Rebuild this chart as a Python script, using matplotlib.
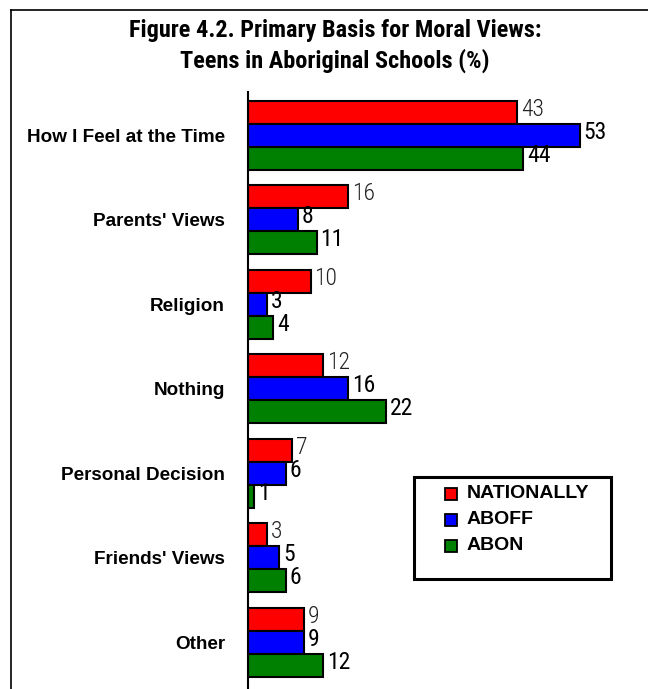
import numpy as np
import matplotlib.pyplot as plt
import matplotlib.lines as mlines
from matplotlib.patches import Rectangle

categories = ["How I Feel at the Time", "Parents' Views", "Religion", "Nothing",
              "Personal Decision", "Friends' Views", "Other"]
nationally = [43, 16, 10, 12, 7, 3, 9]
aboff = [53, 8, 3, 16, 6, 5, 9]
abon = [44, 11, 4, 22, 1, 6, 12]

series = [("NATIONALLY", nationally, "#ff0000", "light"),
          ("ABOFF", aboff, "#0000ff", "normal"),
          ("ABON", abon, "#008000", "normal")]

narrow = ["Roboto Condensed", "Liberation Sans Narrow", "Roboto", "DejaVu Sans"]
plain = ["Liberation Sans", "DejaVu Sans"]

W, H = 648, 689
fig = plt.figure(figsize=(W / 100, H / 100), dpi=100)
ax = fig.add_axes([248 / W, 0.0, 1 - 248 / W, (H - 92) / H])

bar_h = 23 / 84.5
y = np.arange(len(categories))
for k, (name, vals, color, weight) in enumerate(series):
    pos = y + (k - 1) * bar_h
    ax.barh(pos, vals, height=bar_h, color=color, edgecolor="black",
            linewidth=1.5, label=name)
    for p, v in zip(pos, vals):
        ax.text(v + 0.6, p - 0.03, str(v), va="center", ha="left",
                fontsize=17, family=narrow, fontweight=weight,
                color="#222222" if weight == "light" else "black")

ax.set_xlim(0, (W - 248) / 6.26)
ax.set_ylim(len(categories) - 1 + 0.556, -0.509)
ax.set_yticks(y)
ax.set_yticklabels(categories, family=plain, fontweight="bold", fontsize=13.6)
ax.tick_params(axis="y", length=0, pad=16.5)
ax.set_xticks([])
for s in ["top", "right", "bottom"]:
    ax.spines[s].set_visible(False)
ax.spines["left"].set_linewidth(1.5)

# title and outer frame
fig.text(335 / W, 1 - 46 / H, "Figure 4.2. Primary Basis for Moral Views:\n"
         "Teens in Aboriginal Schools (%)", ha="center", va="center",
         fontsize=17.5, fontweight="semibold", family=narrow, linespacing=1.3)
fig.add_artist(mlines.Line2D([11 / W, 11 / W], [0, 1 - 10 / H],
                             color="black", lw=1.2))
fig.add_artist(mlines.Line2D([11 / W, 1], [1 - 10 / H, 1 - 10 / H],
                             color="black", lw=1.2))

# legend box drawn by hand in pixel coordinates
fig.add_artist(Rectangle((414 / W, 1 - 579 / H), 197 / W, 102 / H,
                         transform=fig.transFigure, facecolor="white",
                         edgecolor="black", lw=2.2))
for k, (name, _, color, _) in enumerate(series):
    yc = 494 + 26 * k
    fig.add_artist(Rectangle((445 / W, 1 - (yc + 6) / H), 12 / W, 12 / H,
                             transform=fig.transFigure, facecolor=color,
                             edgecolor="black", lw=1.3))
    fig.text(467 / W, 1 - yc / H, name, ha="left", va="center",
             family=plain, fontweight="bold", fontsize=14)

fig.savefig("out.png", dpi=100)
